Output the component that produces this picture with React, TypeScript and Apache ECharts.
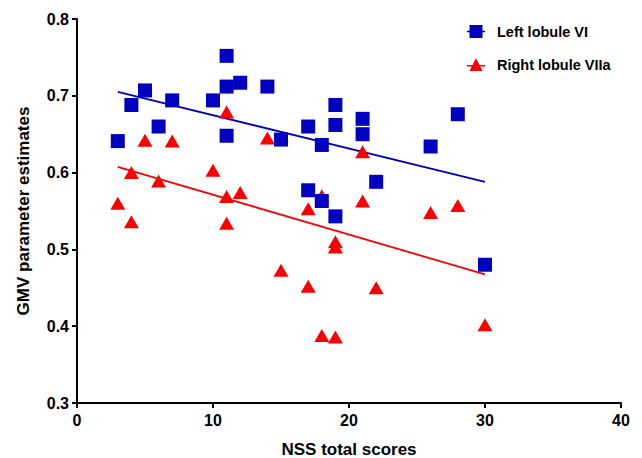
import React, { useEffect, useRef } from "react";
import * as echarts from "echarts";

const blueX = [3, 4, 5, 6, 7, 10, 11, 11, 11, 12, 14, 15, 17, 17, 18, 18, 19, 19, 19, 21, 21, 22, 26, 28, 30];
const blueY = [0.641, 0.688, 0.707, 0.66, 0.694, 0.694, 0.752, 0.712, 0.648, 0.717, 0.712, 0.643, 0.66, 0.577, 0.636, 0.563, 0.688, 0.662, 0.543, 0.67, 0.65, 0.588, 0.634, 0.676, 0.48];
const redX = [3, 4, 4, 5, 6, 7, 10, 11, 11, 11, 12, 14, 15, 17, 17, 18, 18, 19, 19, 19, 21, 21, 22, 26, 28, 30];
const redY = [0.56, 0.6, 0.536, 0.642, 0.589, 0.641, 0.603, 0.679, 0.569, 0.534, 0.574, 0.645, 0.473, 0.553, 0.452, 0.57, 0.388, 0.386, 0.51, 0.503, 0.627, 0.563, 0.45, 0.548, 0.557, 0.402];
const blueFitX = [3, 30];
const blueFitY = [0.705, 0.588];
const redFitX = [3, 30];
const redFitY = [0.6075, 0.4675];

const seriesNames = ["Left lobule VI", "Right lobule VIIa"];
const xTitle = "NSS total scores";
const yTitle = "GMV parameter estimates";

const BLUE = "#0000BE";
const RED = "#FF0000";
const FONT = "Liberation Sans, Arial, sans-serif";

const zip = (xs: number[], ys: number[]) => xs.map((x, i) => [x, ys[i]]);

const squareIcon = "path://M0,5.75 H2.5 V0 H15.5 V5.75 H18 V7.25 H15.5 V13 H2.5 V7.25 H0 Z";
const triIcon = "path://M0,7 H5.5 L9,0 L12.5,7 H18 V8.5 H13.25 L15.5,13 H2.5 L4.75,8.5 H0 Z";

export default function App() {
  const ref = useRef<HTMLDivElement>(null);
  useEffect(() => {
    if (!ref.current) return;
    const chart = echarts.init(ref.current, undefined, { renderer: "svg" });
    chart.setOption({
      animation: false,
      backgroundColor: "#fff",
      grid: { left: 77, right: 21, top: 19, bottom: 55, containLabel: false, outerBoundsMode: "none" },
      legend: {
        orient: "vertical",
        left: 467,
        top: 24,
        padding: 0,
        itemWidth: 18,
        itemHeight: 13,
        itemGap: 18,
        textStyle: {
          fontFamily: FONT,
          fontWeight: "bold",
          fontSize: 14.5,
          lineHeight: 13,
          color: "#000",
          padding: [0, 0, 0, 7],
        },
        data: [
          { name: seriesNames[0], icon: squareIcon },
          { name: seriesNames[1], icon: triIcon },
        ],
      },
      xAxis: {
        type: "value",
        min: 0,
        max: 40,
        interval: 10,
        name: xTitle,
        nameLocation: "middle",
        nameGap: 38,
        nameTextStyle: { fontFamily: FONT, fontWeight: "bold", fontSize: 17, color: "#000" },
        splitLine: { show: false },
        axisLine: { onZero: false, lineStyle: { color: "#000", width: 2 } },
        axisTick: { show: true, length: 5, lineStyle: { color: "#000", width: 2 } },
        axisLabel: { fontFamily: FONT, fontWeight: "bold", fontSize: 16, color: "#000", margin: 9 },
      },
      yAxis: {
        type: "value",
        min: 0.3,
        max: 0.8,
        interval: 0.1,
        name: yTitle,
        nameLocation: "middle",
        nameGap: 45,
        nameTextStyle: { fontFamily: FONT, fontWeight: "bold", fontSize: 17, color: "#000" },
        splitLine: { show: false },
        axisLine: { show: true, onZero: false, lineStyle: { color: "#000", width: 2 } },
        axisTick: { show: true, length: 5, lineStyle: { color: "#000", width: 2 } },
        axisLabel: {
          fontFamily: FONT,
          fontWeight: "bold",
          fontSize: 16,
          color: "#000",
          margin: 8,
          formatter: (v: number) => v.toFixed(1),
        },
      },
      series: [
        {
          name: seriesNames[0] + " fit",
          type: "line",
          data: zip(blueFitX, blueFitY),
          showSymbol: false,
          symbol: "none",
          lineStyle: { color: BLUE, width: 1.8 },
          z: 1,
        },
        {
          name: seriesNames[1] + " fit",
          type: "line",
          data: zip(redFitX, redFitY),
          showSymbol: false,
          symbol: "none",
          lineStyle: { color: RED, width: 1.8 },
          z: 1,
        },
        {
          name: seriesNames[1],
          type: "scatter",
          data: zip(redX, redY),
          symbol: "triangle",
          symbolSize: [15, 13],
          itemStyle: { color: RED, opacity: 1 },
          z: 2,
        },
        {
          name: seriesNames[0],
          type: "scatter",
          data: zip(blueX, blueY),
          symbol: "rect",
          symbolSize: 14,
          itemStyle: { color: BLUE, opacity: 1 },
          z: 3,
        },
      ],
    });
    return () => chart.dispose();
  }, []);
  return <div ref={ref} style={{ width: 642, height: 458, position: "absolute", left: 0, top: 0 }} />;
}
